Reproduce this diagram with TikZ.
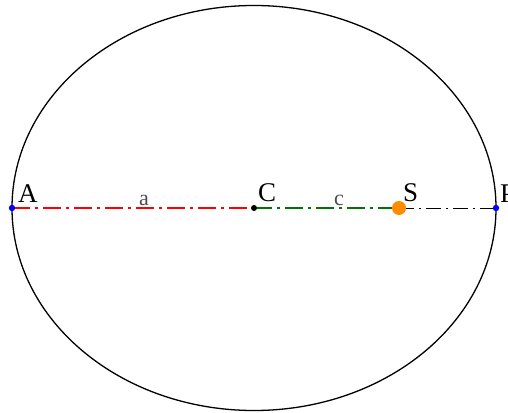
\documentclass[tikz,border=0pt]{standalone}
\usepackage{fontspec}
\setmainfont{Liberation Serif}
\begin{document}
\begin{tikzpicture}[x=1pt,y=-1pt,
  lbl/.style={font=\fontsize{27}{27}\selectfont, inner sep=0pt},
  slbl/.style={font=\fontsize{22}{22}\selectfont, inner sep=0pt, text=black!70},
  axis/.style={line width=2.8pt, dash pattern=on 18pt off 5pt on 3pt off 5pt},
  thin axis/.style={line width=1pt, dash pattern=on 15pt off 5pt on 2pt off 5pt}]
\useasboundingbox (0,0) rectangle (508,412);
\draw[line width=1.3pt] (254,208) ellipse [x radius=242, y radius=202.5];
\coordinate (A) at (12,208);
\coordinate (C) at (254,208);
\coordinate (S) at (399,208);
\coordinate (P) at (496,208);
\draw[axis, red] (A) -- (C);
\draw[axis, green!45!black] (C) -- (S);
\draw[thin axis, black] (S) -- (P);
\fill[blue] (A) circle (3.2);
\fill[blue] (P) circle (3.2);
\fill[black] (C) circle (3);
\fill[orange!90!yellow] (S) circle (7);
\node[lbl, anchor=base west] (lA) at (18,202) {A};
\node[slbl, anchor=base] (la) at (144,205) {a};
\node[lbl, anchor=base west] (lC) at (258,201) {C};
\node[slbl, anchor=base] (lc) at (339,205) {c};
\node[lbl, anchor=base west] (lS) at (403,201) {S};
\node[lbl, anchor=base west] (lP) at (500,202) {P};
\end{tikzpicture}
\end{document}
